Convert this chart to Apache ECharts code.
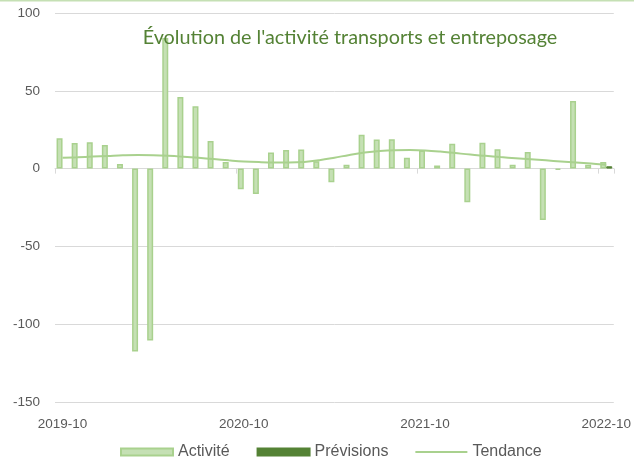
<!DOCTYPE html>
<html>
<head>
<meta charset="utf-8">
<script src="https://cdn.jsdelivr.net/npm/echarts@6/dist/echarts.min.js"></script>
<style>
html,body{margin:0;padding:0;background:#fff;}
#chart{width:634px;height:460px;}
</style>
</head>
<body>
<div id="chart"></div>
<script>
var categories = [
  '2019-10','2019-11','2019-12','2020-01','2020-02','2020-03','2020-04','2020-05','2020-06','2020-07','2020-08','2020-09',
  '2020-10','2020-11','2020-12','2021-01','2021-02','2021-03','2021-04','2021-05','2021-06','2021-07','2021-08','2021-09',
  '2021-10','2021-11','2021-12','2022-01','2022-02','2022-03','2022-04','2022-05','2022-06','2022-07','2022-08','2022-09',
  '2022-10'
];
var activite = [19.5, 16.5, 17, 15.2, 3, -117.5, -110.5, 84, 46, 40, 17.8, 4.3,
  -13.3, -16.3, 10.4, 11.9, 12.3, 4.8, -8.7, 2.4, 21.7, 18.7, 18.9, 6.9,
  11.7, 2, 16, -21.6, 16.6, 12.5, 2.4, 10.6, -33, -0.7, 43.4, 2.4,
  4.3];
var previsions = [null, null, null, null, null, null, null, null, null, null, null, null,
  null, null, null, null, null, null, null, null, null, null, null, null,
  null, null, null, null, null, null, null, null, null, null, null, null,
  1.5];
var tendance = [7, 7.3, 7.7, 8.1, 8.5, 8.7, 8.6, 8.2, 7.6, 6.9, 6.1, 5.3,
  4.6, 4.2, 4.0, 4.0, 4.3, 5.4, 7.0, 8.8, 10.3, 11.3, 11.8, 11.9,
  11.7, 11.0, 10.0, 9.0, 8.2, 7.4, 6.7, 6.0, 5.3, 4.6, 3.9, 3.2,
  2.5];
var yTicks = {min: -150, max: 100, interval: 50};

var chart = echarts.init(document.getElementById('chart'));
var labelFont = 'Liberation Sans, Arial, sans-serif';
chart.setOption({
  animation: false,
  backgroundColor: '#fff',
  graphic: [{type: 'rect', shape: {x: 0, y: 0, width: 634, height: 1.5}, style: {fill: '#c5e0b4'}, z: 0}],
  title: {
    text: "Évolution de l'activité transports et entreposage",
    left: 345, top: 23, textAlign: 'center',
    textStyle: {fontFamily: 'Lato', fontSize: 19.8, fontWeight: 'normal', color: '#548235'}
  },
  legend: {
    left: 115, top: 439, itemWidth: 52, itemHeight: 7, itemGap: 27,
    textStyle: {fontFamily: labelFont, fontSize: 16, color: '#595959'},
    data: [
      {name: 'Activité', icon: 'rect'},
      {name: 'Prévisions', icon: 'rect'},
      {name: 'Tendance', icon: 'path://M0,0 L52,0 L52,2 L0,2 Z', itemStyle: {color: '#a9d18e', borderWidth: 0}}
    ]
  },
  grid: {left: 55, right: 19, top: 13, bottom: 58},
  xAxis: [{
    type: 'category', data: categories, boundaryGap: true, position: 'bottom',
    axisLine: {show: true, onZero: true, lineStyle: {color: '#d9d9d9', width: 1}},
    axisTick: {show: true, interval: 11, length: 5, lineStyle: {color: '#d9d9d9'}},
    axisLabel: {show: false, interval: 11}
  }, {
    type: 'category', data: categories, boundaryGap: true, position: 'bottom',
    axisLine: {show: false, onZero: false},
    axisTick: {show: false},
    axisLabel: {show: true, interval: 11, margin: 15, fontFamily: labelFont, fontSize: 13.5, color: '#595959'}
  }],
  yAxis: {
    type: 'value', min: yTicks.min, max: yTicks.max, interval: yTicks.interval,
    axisLine: {show: false}, axisTick: {show: false},
    splitLine: {lineStyle: {color: '#d9d9d9', width: 1}},
    axisLabel: {margin: 15, fontFamily: labelFont, fontSize: 13.5, color: '#595959'}
  },
  series: [{
    name: 'Activité', type: 'bar', data: activite, barWidth: 6, barGap: '0%',
    itemStyle: {color: '#c5e0b4', borderColor: '#a9d18e', borderWidth: 1.5}
  }, {
    name: 'Prévisions', type: 'bar', data: previsions, barWidth: 6, barGap: '0%',
    itemStyle: {color: '#548235', borderColor: '#548235', borderWidth: 1}
  }, {
    name: 'Tendance', type: 'line', data: tendance, smooth: 0.4, symbol: 'none',
    lineStyle: {color: '#a9d18e', width: 2}, itemStyle: {color: '#a9d18e'}
  }]
});
</script>
</body>
</html>
